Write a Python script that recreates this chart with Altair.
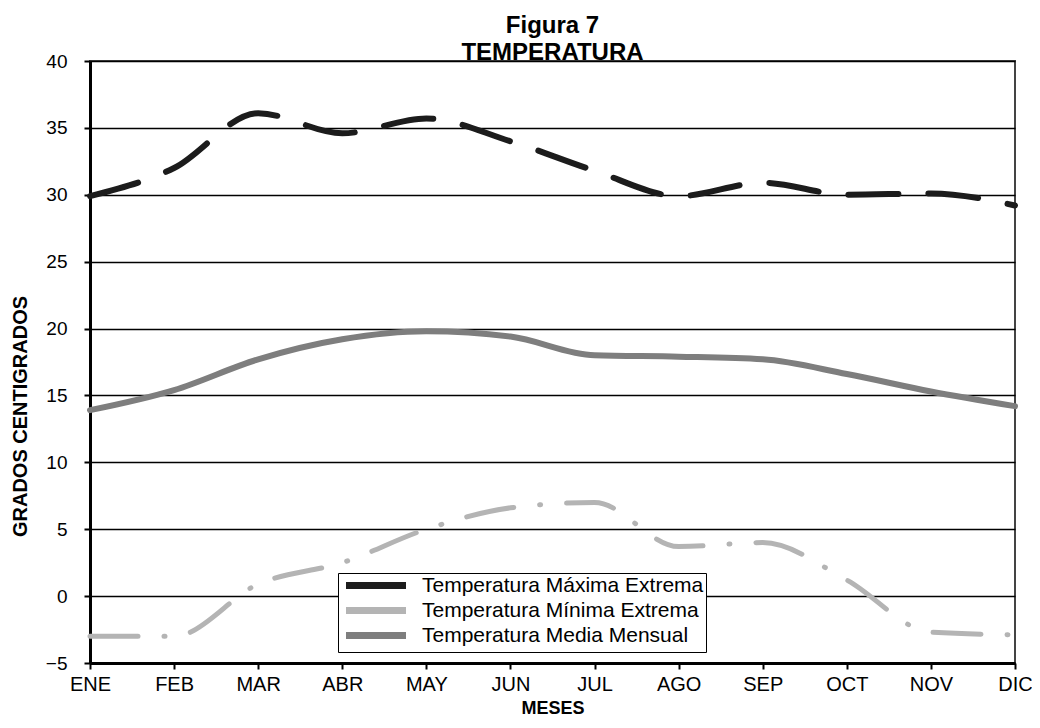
import altair as alt
import pandas as pd

months = ["ENE", "FEB", "MAR", "ABR", "MAY", "JUN", "JUL", "AGO", "SEP", "OCT", "NOV", "DIC"]
tmax = [29.9, 32.0, 36.1, 34.6, 35.7, 34.0, 31.8, 29.9, 30.9, 30.0, 30.1, 29.2]
tmin = [-3.0, -3.0, 0.9, 2.5, 5.0, 6.6, 7.0, 3.7, 4.0, 1.2, -2.7, -2.9]
tmed = [13.9, 15.4, 17.7, 19.2, 19.8, 19.4, 18.0, 17.9, 17.7, 16.6, 15.3, 14.2]
series = ["Temperatura Máxima Extrema", "Temperatura Mínima Extrema", "Temperatura Media Mensual"]
colors = ["#1c1c1c", "#b4b4b4", "#7e7e7e"]
yticks = [-5, 0, 5, 10, 15, 20, 25, 30, 35, 40]

rows = []
for name, vals in zip(series, [tmax, tmin, tmed]):
    for m, v in zip(months, vals):
        rows.append({"mes": m, "temp": v, "serie": name})
df = pd.DataFrame(rows)

FONT = "Liberation Sans"

x = alt.X(
    "mes:N", sort=months,
    scale=alt.Scale(type="point", padding=0),
    axis=alt.Axis(
        title="MESES", labelAngle=0, labelFont=FONT, labelFontSize=20, labelColor="black",
        labelPadding=5, tickSize=6, tickWidth=2, tickColor="black",
        domainColor="black", domainWidth=3, grid=False,
        titleFont=FONT, titleFontSize=18, titleFontWeight="bold", titleColor="black",
        titlePadding=5,
    ),
)
y = alt.Y(
    "temp:Q",
    scale=alt.Scale(domain=[-5, 40], nice=False, zero=False),
    axis=alt.Axis(
        values=yticks, title="GRADOS CENTIGRADOS", labelFont=FONT, labelFontSize=19,
        labelColor="black", labelPadding=17, tickSize=6, tickWidth=2, tickColor="black",
        domainColor="black", domainWidth=3, grid=True, gridColor="black", gridWidth=1.3,
        titleFont=FONT, titleFontSize=20, titleFontWeight="bold", titleColor="black",
        titleX=-60, titleY=355,
    ),
)
color = alt.Color(
    "serie:N",
    scale=alt.Scale(domain=series, range=colors),
    legend=alt.Legend(
        orient="none", legendX=248, legendY=512, title=None,
        symbolType="M-0.9,0H11.1", symbolStrokeWidth=7, symbolSize=100,
        labelFont=FONT, labelFontSize=21, labelColor="black", labelOffset=61, labelLimit=0,
        strokeColor="black", fillColor="white", padding=2, rowPadding=-4,
    ),
)

base = alt.Chart(df).encode(x=x, y=y, color=color)

lmed = base.transform_filter(alt.datum.serie == series[2]).mark_line(
    strokeWidth=6, interpolate="monotone", strokeCap="round")
lmin = base.transform_filter(alt.datum.serie == series[1]).mark_line(
    strokeWidth=5, interpolate="monotone", strokeCap="round", strokeDash=[48, 26, 1, 26])
lmax = base.transform_filter(alt.datum.serie == series[0]).mark_line(
    strokeWidth=6, interpolate="monotone", strokeCap="round", strokeDash=[50, 30])

chart = alt.layer(lmed, lmin, lmax).properties(
    width=925, height=602,
    padding={"left": 82, "top": 53, "right": 17, "bottom": 57},
    autosize=alt.AutoSizeParams(type="none"),
    title=alt.TitleParams(
        text="Figura 7", subtitle="TEMPERATURA", font=FONT, fontSize=24, fontWeight="bold",
        color="black", subtitleFont=FONT, subtitleFontSize=24, subtitleFontWeight="bold",
        subtitleColor="black", anchor="middle", offset=-13, subtitlePadding=3,
    ),
).configure_view(stroke="#444", strokeWidth=2)

chart.save("out.html", embed_options={"renderer": "svg", "actions": False})
